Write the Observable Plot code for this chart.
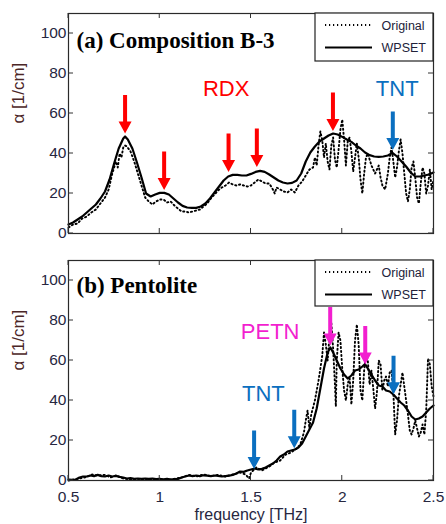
<!DOCTYPE html>
<html>
<head>
<meta charset="utf-8">
<script src="https://cdn.jsdelivr.net/npm/d3@7"></script>
<script src="https://cdn.jsdelivr.net/npm/@observablehq/plot@0.6"></script>
<style>
  html, body { margin: 0; padding: 0; background: #fff; }
  #chart { width: 446px; height: 524px; overflow: hidden; }
  #chart svg { display: block; }
</style>
</head>
<body>
<div id="chart"></div>
<script>
// Absorption coefficient spectra, [frequency (THz), alpha (1/cm)]

// (a) Composition B-3
const wpsetA = [
  [0.50,4.5],[0.525,5.5],[0.55,7],[0.575,8.5],[0.60,10.5],[0.625,12.5],[0.65,14.5],[0.675,17.5],
  [0.70,21],[0.725,27],[0.75,35],[0.775,42.5],[0.80,47.5],[0.81,48.5],[0.825,47],[0.85,42.5],
  [0.875,35.5],[0.90,28],[0.925,20],[0.95,18.5],[0.975,19.5],[1.00,20.3],[1.025,20.3],[1.05,19.5],
  [1.075,17.5],[1.10,15.5],[1.125,13.8],[1.15,13],[1.175,12.8],[1.20,12.8],[1.225,13.5],[1.25,15],
  [1.275,17.5],[1.30,20.5],[1.325,23.5],[1.35,26.5],[1.375,28.5],[1.40,29.3],[1.425,29.3],[1.45,29],
  [1.475,29],[1.50,29.8],[1.525,30.8],[1.55,31.3],[1.575,30.8],[1.60,29.5],[1.625,28],[1.65,26.5],
  [1.675,25.5],[1.70,25],[1.725,25.3],[1.75,26.5],[1.775,30],[1.80,36],[1.825,40.5],[1.85,43.5],
  [1.875,46],[1.90,47.5],[1.925,49],[1.95,50],[1.975,49.5],[2.00,48.3],[2.025,47],[2.05,45.8],
  [2.075,44],[2.10,42.5],[2.125,40.5],[2.15,39.2],[2.175,38.5],[2.20,38.3],[2.225,38.5],[2.25,39],
  [2.275,40.3],[2.30,38.5],[2.325,36],[2.35,33.5],[2.375,30.5],[2.40,28.5],[2.425,28.5],[2.45,29],
  [2.475,29.5],[2.50,30.5]
];
const originalA = [
  [0.50,3],[0.525,4.5],[0.55,5],[0.575,7.5],[0.60,8.5],[0.625,10.5],[0.65,12],[0.675,15],[0.70,18],
  [0.72,22],[0.74,30],[0.76,36],[0.77,33],[0.78,40],[0.79,38],[0.80,43],[0.81,44],[0.82,43.5],
  [0.84,41],[0.86,36],[0.88,30],[0.90,24],[0.92,18],[0.94,16],[0.96,14.5],[0.98,16],[1.00,17],
  [1.02,17],[1.04,15.5],[1.06,16],[1.08,14],[1.10,12.5],[1.12,11],[1.14,11],[1.16,10.5],[1.18,11],
  [1.20,11.5],[1.22,12],[1.24,13.5],[1.26,15],[1.28,17.5],[1.30,19.5],[1.32,21.5],[1.34,23],
  [1.36,24],[1.38,25.5],[1.40,24.5],[1.42,24],[1.44,24.5],[1.46,24],[1.48,23.5],[1.50,24],
  [1.52,25.5],[1.54,27],[1.56,26],[1.58,25],[1.60,25],[1.62,22],[1.63,20],[1.64,23],[1.66,22],
  [1.68,21],[1.70,20.5],[1.72,22],[1.74,20.5],[1.76,24],[1.78,26],[1.80,29],[1.82,32],[1.84,33],
  [1.85,38],[1.86,34],[1.87,44],[1.88,51],[1.89,47],[1.90,38],[1.91,45],[1.92,36],[1.93,32],
  [1.94,44],[1.95,48],[1.96,37],[1.97,33],[1.98,42],[1.99,52],[2.00,57],[2.01,47],[2.02,34],
  [2.03,46],[2.04,48],[2.05,41],[2.06,31],[2.07,38],[2.08,45],[2.09,38],[2.10,27],[2.11,20],
  [2.12,30],[2.13,38],[2.14,40],[2.16,34],[2.18,30],[2.20,34],[2.21,28],[2.22,24],[2.235,22],
  [2.25,30],[2.26,38],[2.27,43],[2.28,36],[2.29,28],[2.30,33],[2.31,41],[2.32,47],[2.33,40],
  [2.34,30],[2.35,20],[2.36,16],[2.37,22],[2.38,33],[2.39,36],[2.40,28],[2.41,18],[2.42,15],
  [2.43,25],[2.44,33],[2.45,30],[2.46,20],[2.47,24],[2.48,32],[2.49,22],[2.50,27]
];
const arrowsA = [
  {f: 0.810, a: 50.0, kind: "RDX"},
  {f: 1.024, a: 21.7, kind: "RDX"},
  {f: 1.377, a: 30.8, kind: "RDX"},
  {f: 1.532, a: 33.3, kind: "RDX"},
  {f: 1.949, a: 51.2, kind: "RDX"},
  {f: 2.277, a: 41.7, kind: "TNT"}
];
const labelsA = [
  {text: "RDX", f: 1.364, a: 72.2},
  {text: "TNT", f: 2.301, a: 72.2}
];

// (b) Pentolite
const wpsetB = [
  [0.50,0.5],[0.52,0.3],[0.54,0.5],[0.56,1.5],[0.58,2],[0.60,2],[0.62,2.5],[0.64,2.2],[0.66,2.8],
  [0.68,2.2],[0.70,2],[0.72,2.5],[0.74,2],[0.76,2.3],[0.78,1.8],[0.80,1.5],[0.82,1],[0.84,1.2],
  [0.86,0.8],[0.88,1],[0.90,0.8],[0.92,1],[0.94,0.8],[0.96,1],[0.98,0.7],[1.00,0.8],[1.02,0.6],
  [1.04,0.8],[1.06,0.5],[1.08,0.7],[1.10,0.8],[1.12,1.5],[1.14,2],[1.16,2.5],[1.18,2.2],[1.20,2.5],
  [1.22,2.2],[1.24,2.6],[1.26,2.4],[1.28,2.2],[1.30,2.5],[1.32,2.3],[1.34,2],[1.36,2.2],[1.38,2.4],
  [1.40,2.8],[1.42,3.5],[1.44,4.5],[1.46,4.3],[1.48,5],[1.50,5.5],[1.52,6],[1.54,5.5],[1.56,5.8],
  [1.58,6.5],[1.60,7.5],[1.62,8.5],[1.64,10],[1.66,12],[1.68,13],[1.70,14.5],[1.72,15],[1.74,15.5],
  [1.76,16.5],[1.78,18.5],[1.80,22],[1.82,25.5],[1.84,29],[1.86,36],[1.88,46],[1.90,56],[1.92,64],
  [1.935,66.5],[1.95,64],[1.97,60],[1.99,56],[2.01,53],[2.03,51],[2.05,52.5],[2.07,55],[2.09,55.5],
  [2.11,57],[2.125,58.2],[2.14,56],[2.16,53],[2.18,50],[2.20,47.5],[2.22,47],[2.24,45],[2.26,44.5],
  [2.28,43],[2.30,41],[2.32,39],[2.34,37.5],[2.36,35],[2.38,32],[2.40,30.5],[2.42,31],[2.44,32],
  [2.46,34],[2.48,36],[2.50,37.5]
];
const originalB = [
  [0.50,0],[0.53,0.5],[0.56,1],[0.60,1.8],[0.63,3],[0.66,2.5],[0.70,2.8],[0.73,1.5],[0.76,2.5],
  [0.80,1],[0.84,0.5],[0.88,0.8],[0.92,0.3],[0.96,0.6],[1.00,0.5],[1.04,0.3],[1.08,0.8],[1.12,1.5],
  [1.16,2.8],[1.20,2],[1.24,3],[1.28,2.2],[1.32,2.8],[1.36,2],[1.40,3],[1.44,4],[1.47,3],[1.49,1],
  [1.50,4],[1.53,6.5],[1.56,5],[1.60,7],[1.63,9],[1.66,10],[1.69,13],[1.72,14],[1.75,16],[1.77,18],
  [1.79,24],[1.80,30],[1.81,35],[1.82,26],[1.83,33],[1.85,40],[1.87,50],[1.89,62],[1.90,74],
  [1.91,68],[1.92,60],[1.93,72],[1.94,79],[1.95,66],[1.96,48],[1.965,37],[1.97,60],[1.98,74],
  [1.99,70],[2.00,56],[2.01,45],[2.02,40],[2.03,48],[2.04,52],[2.05,38],[2.06,50],[2.07,70],
  [2.08,78],[2.09,68],[2.10,45],[2.11,40],[2.12,55],[2.13,63],[2.14,60],[2.15,48],[2.16,55],
  [2.17,46],[2.18,36],[2.19,44],[2.20,60],[2.21,58],[2.22,45],[2.23,50],[2.24,52],[2.25,47],
  [2.26,54],[2.27,55],[2.28,44],[2.29,23],[2.30,30],[2.31,42],[2.32,48],[2.33,54],[2.34,47],
  [2.35,40],[2.36,33],[2.37,25],[2.38,23],[2.39,26],[2.40,30],[2.41,26],[2.42,22],[2.43,24],
  [2.44,28],[2.45,23],[2.46,35],[2.47,61],[2.48,58],[2.49,47],[2.50,42]
];
const arrowsB = [
  {f: 1.517, a: 5.8, kind: "TNT"},
  {f: 1.737, a: 16.1, kind: "TNT"},
  {f: 1.934, a: 67.5, kind: "PETN"},
  {f: 2.126, a: 58.0, kind: "PETN"},
  {f: 2.281, a: 43.1, kind: "TNT"}
];
const labelsB = [
  {text: "PETN", f: 1.605, a: 74.1},
  {text: "TNT", f: 1.568, a: 43.1}
];

// Axes
const xTicks = [0.5, 1, 1.5, 2, 2.5];
const xTickLabels = ["0.5", "1", "1.5", "2", "2.5"];
const yTicks = [0, 20, 40, 60, 80, 100];
const legendNames = ["Original", "WPSET"];

const SANS = '"Liberation Sans", Arial, Helvetica, sans-serif';
const SERIF = '"Liberation Serif", "Times New Roman", serif';
const TICK_COLOR = "#27273f";
const compoundColor = {RDX: "#ff0000", TNT: "#0b6fc0", PETN: "#f21fcf"};
const DOT_DASH = "1.2,2.8";

// Block arrow pointing along the vector, tip at its end
const blockArrow = {
  draw(ctx, l) {
    const sw = 2, hw = 6.5, hh = 12;
    ctx.moveTo(-sw, 0);
    ctx.lineTo(-sw, -(l - hh));
    ctx.lineTo(-hw, -(l - hh));
    ctx.lineTo(0, -l);
    ctx.lineTo(hw, -(l - hh));
    ctx.lineTo(sw, -(l - hh));
    ctx.lineTo(sw, 0);
    ctx.closePath();
  }
};

const WIDTH = 446, ML = 68, MR = 13;

function panel({title, wpset, original, arrows, labels, height, marginTop, marginBottom, titleDy, showX, legendH}) {
  const tickLabel = d => xTickLabels[xTicks.indexOf(d)];
  const marks = [
    Plot.line(original, {x: d => d[0], y: d => d[1], stroke: "#000", strokeWidth: 1.9, strokeDasharray: DOT_DASH}),
    Plot.line(wpset, {x: d => d[0], y: d => d[1], stroke: "#000", strokeWidth: 2.2}),
    Plot.vector(arrows, {x: "f", y: "a", length: 38.5, rotate: 180, anchor: "end", shape: blockArrow,
      fill: d => compoundColor[d.kind], stroke: "none"}),
    Plot.text(labels, {x: "f", y: "a", text: "text", fill: d => compoundColor[d.text], fontSize: 22, fontFamily: SANS}),
    Plot.text([title], {frameAnchor: "top-left", dx: 8, dy: titleDy, lineAnchor: "top", textAnchor: "start",
      fontFamily: SERIF, fontWeight: "bold", fontSize: 23, fill: "#000"}),
    Plot.axisY(yTicks, {anchor: "left", tickSize: 0, tickPadding: 2, label: null, fill: TICK_COLOR, fontSize: 15.5}),
    Plot.text(["α [1/cm]"], {frameAnchor: "left", dx: -50, rotate: -90, fill: "#4b2626", fontSize: 17, fontFamily: SANS}),
    Plot.frame({stroke: "#2a2a2a", strokeWidth: 1.2})
  ];
  if (showX) {
    marks.push(
      Plot.axisX(xTicks, {anchor: "bottom", tickSize: 0, tickPadding: 10, tickFormat: tickLabel, label: null, fill: TICK_COLOR, fontSize: 15.5}),
      Plot.text(["frequency [THz]"], {frameAnchor: "bottom", dy: 39, fill: TICK_COLOR, fontSize: 16, fontFamily: SANS})
    );
  } else {
    marks.push(Plot.axisX(xTicks, {anchor: "bottom", tickSize: 0, tickFormat: () => "", label: null}));
  }
  const svg = Plot.plot({
    width: WIDTH, height, marginLeft: ML, marginRight: MR, marginTop, marginBottom,
    style: {fontFamily: SANS, fontSize: "16px", background: "#fff", color: "#222"},
    x: {domain: [0.5, 2.5]},
    y: {domain: [0, 110]},
    color: {type: "identity"},
    marks
  });

  const sx = svg.scale("x"), sy = svg.scale("y");
  const L = ML, R = WIDTH - MR, T = marginTop, B = height - marginBottom, TK = 5;

  // Inward tick marks on all four sides of the frame
  const ticks = d3.select(svg).append("g").attr("stroke", "#333").attr("stroke-width", 1);
  xTicks.forEach(v => {
    const x = sx.apply(v);
    ticks.append("line").attr("x1", x).attr("x2", x).attr("y1", B).attr("y2", B - TK);
    ticks.append("line").attr("x1", x).attr("x2", x).attr("y1", T).attr("y2", T + TK);
  });
  yTicks.forEach(v => {
    const y = sy.apply(v);
    ticks.append("line").attr("x1", L).attr("x2", L + TK).attr("y1", y).attr("y2", y);
    ticks.append("line").attr("x1", R).attr("x2", R - TK).attr("y1", y).attr("y2", y);
  });

  // Legend box in the upper-right corner of the frame
  const left = R - 118;
  const g = d3.select(svg).append("g").attr("font-family", SANS).attr("font-size", 12.5).attr("text-anchor", "start");
  g.append("rect").attr("x", left).attr("y", T).attr("width", R - left).attr("height", legendH)
    .attr("fill", "#fff").attr("stroke", "#222").attr("stroke-width", 1.2);
  legendNames.forEach((name, i) => {
    const y = T + 12 + i * 22.5;
    g.append("line").attr("x1", left + 10).attr("x2", left + 57).attr("y1", y).attr("y2", y)
      .attr("stroke", "#000").attr("stroke-width", i === 0 ? 1.9 : 2.2)
      .attr("stroke-dasharray", i === 0 ? DOT_DASH : null);
    g.append("text").attr("x", left + 66.5).attr("y", y).attr("dy", "0.36em")
      .attr("text-anchor", "start").attr("fill", "#22223a").text(name);
  });
  return svg;
}

const chart = document.getElementById("chart");
chart.append(panel({
  title: "(a) Composition B-3", wpset: wpsetA, original: originalA, arrows: arrowsA, labels: labelsA,
  height: 250, marginTop: 13, marginBottom: 17, titleDy: 18, showX: false, legendH: 48
}));
chart.append(panel({
  title: "(b) Pentolite", wpset: wpsetB, original: originalB, arrows: arrowsB, labels: labelsB,
  height: 274, marginTop: 10, marginBottom: 44, titleDy: 16, showX: true, legendH: 46
}));
</script>
</body>
</html>
